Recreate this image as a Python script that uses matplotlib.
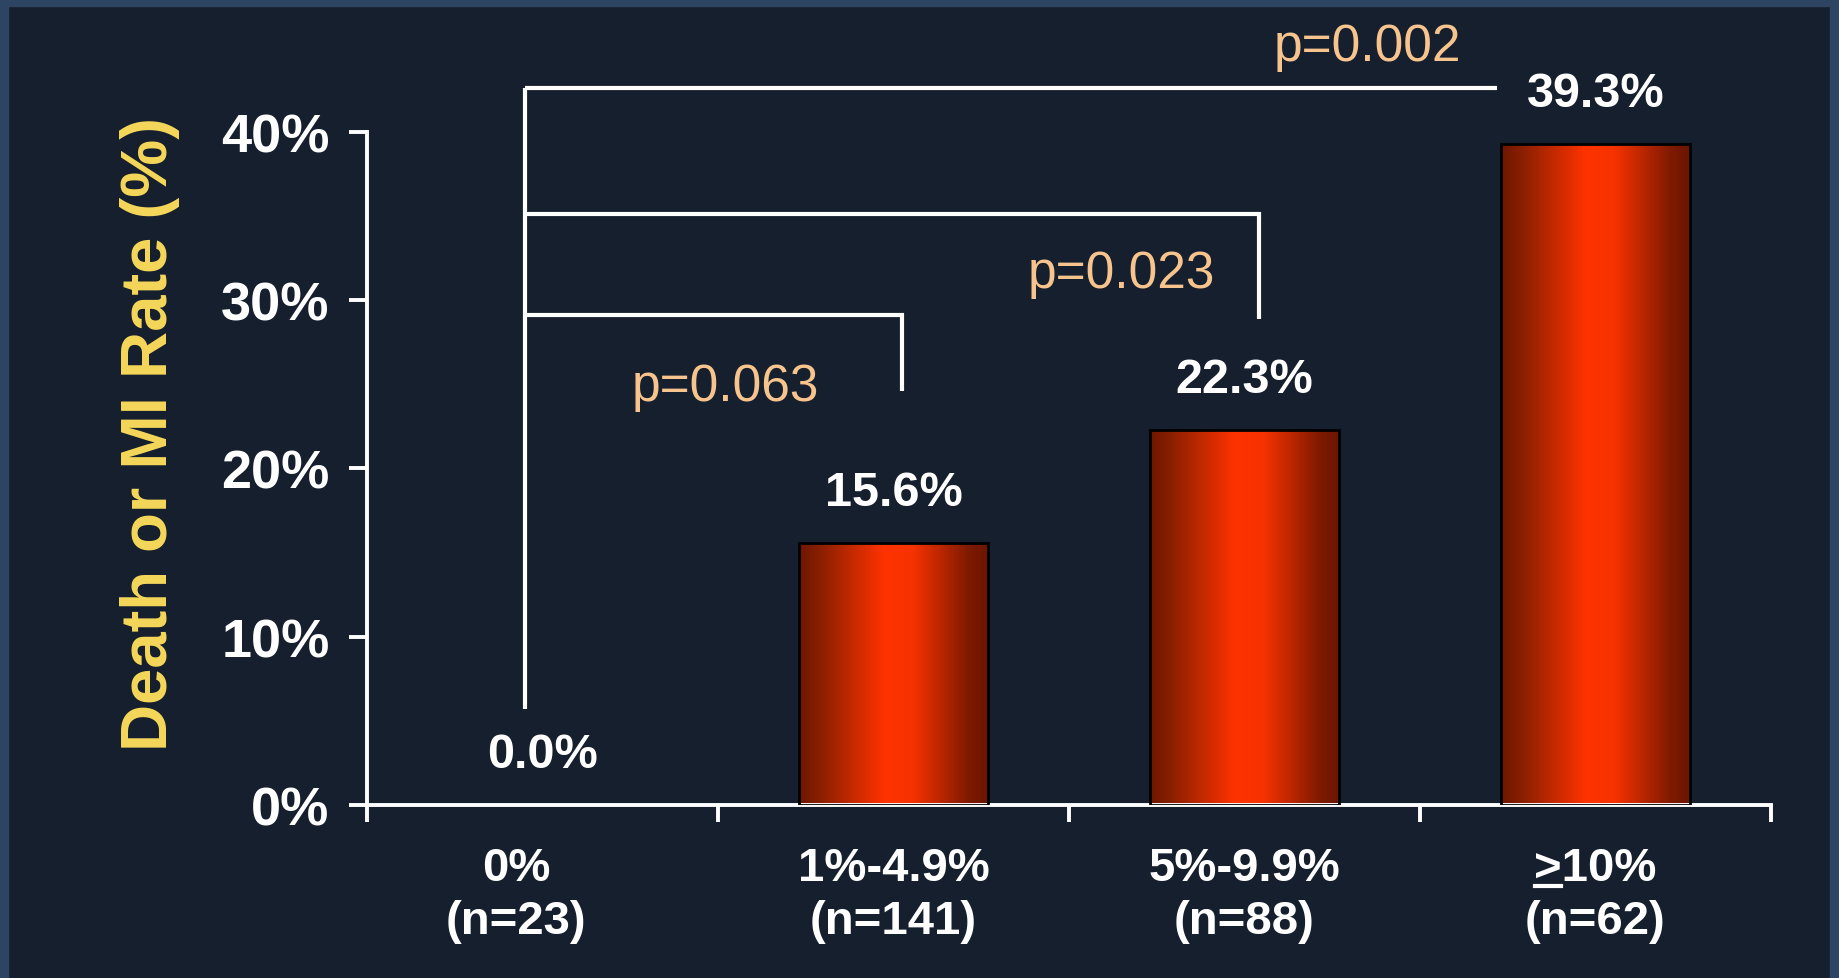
import numpy as np
import matplotlib
matplotlib.use("Agg")
import matplotlib.pyplot as plt
from matplotlib import font_manager
from matplotlib.colors import LinearSegmentedColormap
from matplotlib.patches import Rectangle
from matplotlib.lines import Line2D

# data
groups = ["0%", "1%-4.9%", "5%-9.9%", ">10%"]
counts = ["(n=23)", "(n=141)", "(n=88)", "(n=62)"]
rates = [0.0, 15.6, 22.3, 39.3]
yticks = [0, 10, 20, 30, 40]

# comparisons against the 0% group
comp_height = [29.1, 35.1, 42.6]
comp_drop = [24.6, 28.9, None]
comp_end = [1.025, 2.04, 2.72]
p_labels = ["p=0.063", "p=0.023", "p=0.002"]
p_pos = [(0.52, 24.9), (1.65, 31.6), (2.35, 45.1)]
label_x = [-0.075, 1.0, 2.0, 3.0]

bg = "#161f2d"
frame = "#2d4562"
names = {f.name for f in font_manager.fontManager.ttflist}
base = "Liberation Sans" if "Liberation Sans" in names else "DejaVu Sans"
narrow = "Liberation Sans Narrow" if "Liberation Sans Narrow" in names else base
plt.rcParams["font.family"] = base

fig = plt.figure(figsize=(18.39, 9.79), dpi=100, facecolor=bg)
# light frame round the slide
fig.patches.append(Rectangle((0, 0), 8 / 1839, 1, transform=fig.transFigure, color=frame, zorder=0))
fig.patches.append(Rectangle((0, 1 - 7 / 979), 1, 7 / 979, transform=fig.transFigure, color=frame, zorder=0))
fig.patches.append(Rectangle((1 - 9 / 1839, 0), 9 / 1839, 1, transform=fig.transFigure, color=frame, zorder=0))

ax = fig.add_axes([0.1996, 0.1767, 0.7634, 0.8233])
ax.set_facecolor(bg)
ax.set_xlim(-0.5, 3.5)
ax.set_ylim(0, 47.9)

# bars with horizontal gradient
cmap = LinearSegmentedColormap.from_list(
    "bar", [(0, "#6e1600"), (0.1, "#861f00"), (0.45, "#ff3300"), (0.6, "#f53200"), (0.9, "#7d1a00"), (1, "#6a1500")])
grad = np.linspace(0, 1, 256).reshape(1, -1)
width = 0.54
bars = ax.bar(range(len(rates)), rates, width=width, facecolor="none", edgecolor="black", linewidth=2, zorder=3)
for b in bars:
    if b.get_height() <= 0:
        b.set_linewidth(0)
        continue
    im = ax.imshow(grad, cmap=cmap, aspect="auto", zorder=2,
                   extent=(b.get_x(), b.get_x() + b.get_width(), 0, b.get_height()))
    im.set_clip_path(b)

# value labels
for i, v in enumerate(rates):
    ax.text(i, v + 3, f"{v:.1f}%", ha="center", va="center", color="white",
            fontsize=35, fontweight="bold", zorder=5)

# comparison brackets
lw = 3.0
ax.plot([-0.05, -0.05], [5.7, comp_height[2]], color="white", lw=lw, solid_capstyle="butt", zorder=4)
for h, d, e in zip(comp_height, comp_drop, comp_end):
    xs = [-0.05, e]
    ys = [h, h]
    if d is not None:
        xs.append(e)
        ys.append(d)
    ax.plot(xs, ys, color="white", lw=lw, solid_joinstyle="miter", solid_capstyle="butt", zorder=4)
for lab, (px, py) in zip(p_labels, p_pos):
    ax.text(px, py, lab, ha="center", va="center", color="#f8c48e", fontsize=37, zorder=5)

# axes styling
for s in ["top", "right"]:
    ax.spines[s].set_visible(False)
ax.spines["left"].set_bounds(0, 40)
for s in ["left", "bottom"]:
    ax.spines[s].set_color("white")
    ax.spines[s].set_linewidth(2.8)
ax.set_yticks(yticks)
ax.set_yticklabels([f"{t}%" for t in yticks])
ax.tick_params(axis="y", colors="white", length=13, width=2.8, pad=14, labelsize=39)
for t in ax.get_yticklabels():
    t.set_fontweight("bold")
ax.set_xticks(np.arange(-0.5, 4, 1))
ax.set_xticklabels([])
ax.tick_params(axis="x", colors="white", length=12, width=2.8)

# category labels
tr = ax.get_xaxis_transform()
top_labels = []
for x, g, c in zip(label_x, groups, counts):
    t = ax.text(x, -0.078, g, transform=tr, ha="center", va="center", color="white",
                fontsize=34, fontweight="bold", family=narrow)
    top_labels.append(t)
    ax.text(x, -0.144, c, transform=tr, ha="center", va="center", color="white",
            fontsize=34, fontweight="bold", family=narrow)

# underline the ">" of the last group
fig.canvas.draw()
r = fig.canvas.get_renderer()
bb = top_labels[-1].get_window_extent(r)
tmp = fig.text(0, 0, ">", fontsize=34, fontweight="bold", family=narrow)
w = tmp.get_window_extent(r).width
tmp.remove()
W, H = fig.bbox.width, fig.bbox.height
uy = (bb.y0 + 4) / H
fig.add_artist(Line2D([(bb.x0 + 1) / W, (bb.x0 + w - 1) / W], [uy, uy], transform=fig.transFigure,
                      color="white", lw=3))

fig.text(150 / 1839, 0.5567, "Death or MI Rate (%)", rotation=90, ha="center", va="center",
         color="#f5d85a", fontsize=47, fontweight="bold")

fig.savefig("out.png", dpi=100, facecolor=bg)
